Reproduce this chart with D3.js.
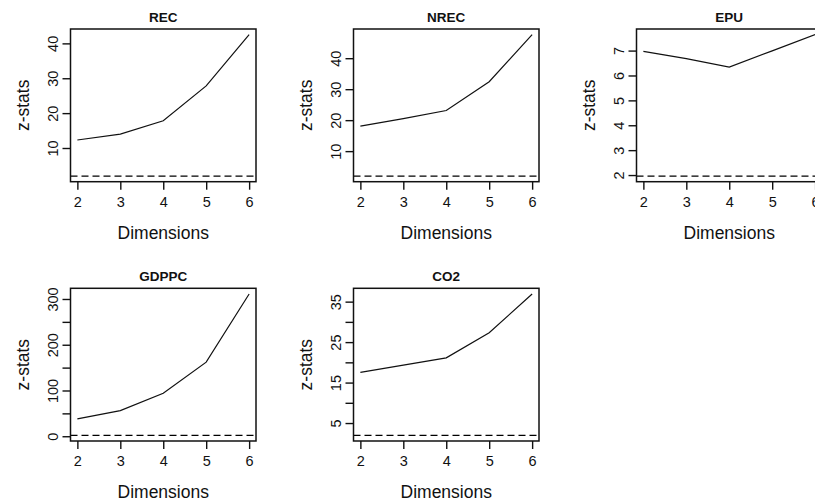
<!DOCTYPE html>
<html>
<head>
<meta charset="utf-8">
<script src="https://cdn.jsdelivr.net/npm/d3@7"></script>
<style>
  body { margin: 0; background: #fff; }
  svg { display: block; font-family: "Liberation Sans", Arial, sans-serif; }
</style>
</head>
<body>
<div id="chart"></div>
<script>
// BDS test z-statistics by embedding dimension
var dims = [2, 3, 4, 5, 6];
var titles = ["REC", "NREC", "EPU", "GDPPC", "CO2"];
var rec = [12.3, 14.0, 17.8, 27.8, 42.5];
var nrec = [18.1, 20.5, 23.1, 32.4, 47.6];
var epu = [6.97, 6.68, 6.34, 6.99, 7.64];
var gdppc = [38, 56, 94, 162, 311];
var co2 = [17.5, 19.3, 21.1, 27.3, 36.9];
var critical = 1.96; // dashed reference line

var recTicks = [10, 20, 30, 40];
var nrecTicks = [10, 20, 30, 40];
var epuTicks = [2, 3, 4, 5, 6, 7];
var gdppcTicks = [0, 50, 100, 150, 200, 250, 300];
var gdppcLabels = [0, 100, 200, 300];
var co2Ticks = [5, 10, 15, 20, 25, 30, 35];
var co2Labels = [5, 15, 25, 35];

var series = [rec, nrec, epu, gdppc, co2];
var ticks = [recTicks, nrecTicks, epuTicks, gdppcTicks, co2Ticks];
var labels = [recTicks, nrecTicks, epuTicks, gdppcLabels, co2Labels];

// panel geometry (px)
var W = 815, H = 502;
var boxW = 185.5, boxH = 152.7;
var colStep = 283, rowStep = 259.3;
var left0 = 70.5, top0 = 29;

var svg = d3.select('#chart').append('svg').attr('width', W).attr('height', H);

// R style range: data range stretched by 4% on each side
function rRange(vals) {
  var lo = d3.min(vals), hi = d3.max(vals), r = hi - lo;
  return [lo - 0.04 * r, hi + 0.04 * r];
}

series.forEach(function(vals, i) {
  var col = i % 3, row = Math.floor(i / 3);
  var g = svg.append('g')
    .attr('transform', 'translate(' + (left0 + col * colStep) + ',' + (top0 + row * rowStep) + ')');

  var x = d3.scaleLinear().domain(rRange(dims)).range([0, boxW]);
  var y = d3.scaleLinear().domain(rRange(vals.concat([critical]))).range([boxH, 0]);

  // dashed critical value
  g.append('line')
    .attr('x1', 0).attr('x2', boxW)
    .attr('y1', y(critical)).attr('y2', y(critical))
    .style('stroke', '#000')
    .style('stroke-width', 1.3)
    .style('stroke-dasharray', '7,4');

  // series line
  var line = d3.line()
    .x(function(d, j) { return x(dims[j]); })
    .y(function(d) { return y(d); });
  g.append('path')
    .datum(vals)
    .attr('d', line)
    .style('fill', 'none')
    .style('stroke', '#111')
    .style('stroke-width', 1.2);

  // box
  g.append('rect')
    .attr('width', boxW).attr('height', boxH)
    .style('fill', 'none').style('stroke', '#111').style('stroke-width', 1.5);

  // x axis
  var xa = g.append('g')
    .attr('transform', 'translate(0,' + boxH + ')')
    .call(d3.axisBottom(x).tickValues(dims).tickSize(8).tickSizeOuter(0).tickFormat(d3.format('d')));
  xa.select('.domain').remove();
  xa.selectAll('line').style('stroke', '#111').style('stroke-width', 1.4);
  xa.selectAll('text')
    .attr('y', 25).attr('dy', 0)
    .style('font-size', '14.5px').style('fill', '#111')
    .style('font-family', '"Liberation Sans", Arial, sans-serif');

  // y axis
  var lab = labels[i];
  var ya = g.append('g')
    .call(d3.axisLeft(y).tickValues(ticks[i]).tickSize(8).tickSizeOuter(0)
      .tickFormat(function(d) { return lab.indexOf(d) >= 0 ? d : ''; }));
  ya.select('.domain').remove();
  ya.selectAll('line').style('stroke', '#111').style('stroke-width', 1.4);
  ya.selectAll('text')
    .attr('transform', 'rotate(-90)')
    .attr('x', 0).attr('y', -13).attr('dy', 0)
    .attr('text-anchor', 'middle')
    .style('font-size', '14.5px').style('fill', '#111')
    .style('font-family', '"Liberation Sans", Arial, sans-serif');

  // title
  g.append('text')
    .attr('x', boxW / 2).attr('y', -7.5)
    .attr('text-anchor', 'middle')
    .style('font-size', '13.5px').style('font-weight', 'bold').style('fill', '#111')
    .text(titles[i]);

  // axis titles
  g.append('text')
    .attr('x', boxW / 2).attr('y', boxH + 57.5)
    .attr('text-anchor', 'middle')
    .style('font-size', '17.5px').style('fill', '#111')
    .text('Dimensions');

  g.append('text')
    .attr('transform', 'translate(-42,' + (boxH / 2) + ') rotate(-90)')
    .attr('text-anchor', 'middle')
    .style('font-size', '17.5px').style('fill', '#111')
    .text('z-stats');
});
</script>
</body>
</html>
